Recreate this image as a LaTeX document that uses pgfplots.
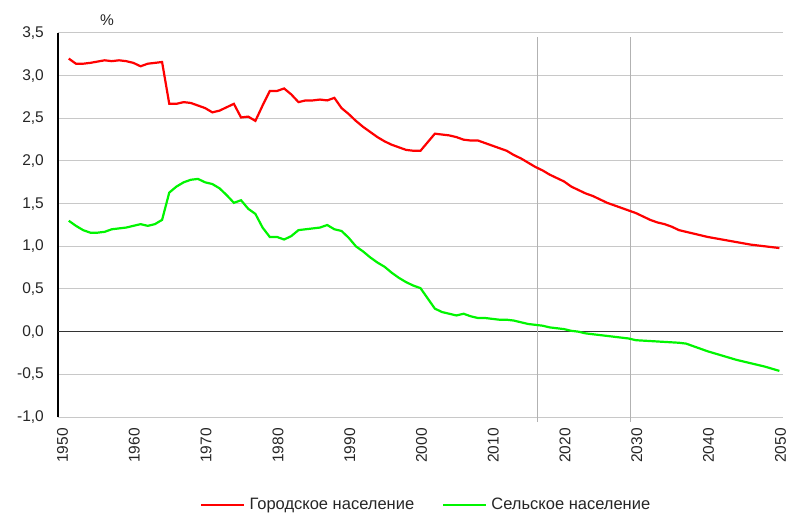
\documentclass[border=0pt]{standalone}
\usepackage{fontspec}
\setmainfont{Liberation Sans}
\usepackage{pgfplots}
\pgfplotsset{compat=1.18}
\definecolor{urb}{RGB}{255,0,0}
\definecolor{rur}{RGB}{0,245,0}
\definecolor{gridc}{RGB}{200,200,200}

\begin{document}
\begin{tikzpicture}
\path[use as bounding box] (-58pt,-96pt) rectangle (731pt,417pt);
\begin{axis}[
  at={(0pt,0pt)}, anchor=south west,
  scale only axis, width=725pt, height=384pt,
  xmin=1949.5, xmax=2050.5,
  ymin=-1, ymax=3.5,
  xtick={1950,1960,...,2050},
  ytick={-1,-0.5,...,3.5},
  major tick length=0pt,
  ymajorgrids, grid style={gridc, line width=1pt},
  axis x line=bottom, axis y line=left,
  x axis line style={-, gridc, line width=1pt},
  y axis line style={-, black, line width=1.3pt},
  /pgf/number format/assume math mode=true,
  xticklabel style={font=\fontsize{15.5}{18}\selectfont, color=black!85,
    rotate=90, anchor=east, inner sep=1pt, xshift=-10pt, yshift=-1pt,
    /pgf/number format/1000 sep={}},
  yticklabel style={font=\fontsize{15.5}{18}\selectfont, color=black!85,
    inner sep=1pt, xshift=-13pt,
    /pgf/number format/.cd, fixed, fixed zerofill, precision=1, use comma},
  legend style={at={(axis description cs:0.508,-0.229)}, anchor=center,
    draw=none, font=\fontsize{16.5}{19}\selectfont, text=black!85,
    legend columns=2, column sep=2pt, inner sep=0pt,
    /tikz/every even column/.append style={column sep=26pt}},
  legend image code/.code={\draw[#1] (0pt,0pt) -- (43pt,0pt);},
  clip=false,
]
\draw[black!80, line width=1pt] (axis cs:1949.5,0) -- (axis cs:2050.5,0);
\draw[gray!60, line width=1pt] (axis cs:2016.3,-1.06) -- (axis cs:2016.3,3.45);
\draw[gray!60, line width=1pt] (axis cs:2029.3,-1.06) -- (axis cs:2029.3,3.45);
\addplot[urb, line width=2.2pt] coordinates {
  (1951,3.20)(1952,3.14)(1953,3.14)(1954,3.15)(1956,3.18)(1957,3.17)
  (1958,3.18)(1959,3.17)(1960,3.15)(1961,3.11)(1962,3.14)(1963,3.15)
  (1964,3.16)(1965,2.67)(1966,2.67)(1967,2.69)(1968,2.68)(1969,2.65)
  (1970,2.62)(1971,2.57)(1972,2.59)(1973,2.63)(1974,2.67)(1975,2.51)
  (1976,2.52)(1977,2.47)(1978,2.65)(1979,2.82)(1980,2.82)(1981,2.85)
  (1982,2.78)(1983,2.69)(1984,2.71)(1985,2.71)(1986,2.72)(1987,2.71)
  (1988,2.74)(1989,2.62)(1990,2.55)(1991,2.47)(1992,2.40)(1993,2.34)
  (1994,2.28)(1995,2.23)(1996,2.19)(1997,2.16)(1998,2.13)(1999,2.12)
  (2000,2.12)(2001,2.22)(2002,2.32)(2003,2.31)(2004,2.30)(2005,2.28)
  (2006,2.25)(2007,2.24)(2008,2.24)(2009,2.21)(2010,2.18)(2011,2.15)
  (2012,2.12)(2013,2.07)(2014,2.03)(2015,1.98)(2016,1.93)(2017,1.89)
  (2018,1.84)(2019,1.80)(2020,1.76)(2021,1.70)(2022,1.66)(2023,1.62)
  (2024,1.59)(2025,1.55)(2026,1.51)(2027,1.48)(2028,1.45)(2029,1.42)
  (2030,1.39)(2031,1.35)(2032,1.31)(2033,1.28)(2034,1.26)(2035,1.23)
  (2036,1.19)(2037,1.17)(2038,1.15)(2039,1.13)(2040,1.11)(2042,1.08)
  (2044,1.05)(2046,1.02)(2048,1.00)(2050,0.98)
};
\addlegendentry{Городское население}
\addplot[rur, line width=2.2pt] coordinates {
  (1951,1.30)(1952,1.24)(1953,1.19)(1954,1.16)(1955,1.16)(1956,1.17)
  (1957,1.20)(1958,1.21)(1959,1.22)(1960,1.24)(1961,1.26)(1962,1.24)
  (1963,1.26)(1964,1.31)(1965,1.63)(1966,1.70)(1967,1.75)(1968,1.78)
  (1969,1.79)(1970,1.75)(1971,1.73)(1972,1.68)(1973,1.60)(1974,1.51)
  (1975,1.54)(1976,1.44)(1977,1.38)(1978,1.22)(1979,1.11)(1980,1.11)
  (1981,1.08)(1982,1.12)(1983,1.19)(1984,1.20)(1985,1.21)(1986,1.22)
  (1987,1.25)(1988,1.20)(1989,1.18)(1990,1.10)(1991,1.00)(1992,0.94)
  (1993,0.87)(1994,0.81)(1995,0.76)(1996,0.69)(1997,0.63)(1998,0.58)
  (1999,0.54)(2000,0.51)(2001,0.39)(2002,0.27)(2003,0.23)(2004,0.21)
  (2005,0.19)(2006,0.21)(2007,0.18)(2008,0.16)(2009,0.16)(2010,0.15)
  (2011,0.14)(2012,0.14)(2013,0.13)(2014,0.11)(2015,0.09)(2016,0.08)
  (2017,0.07)(2018,0.05)(2019,0.04)(2020,0.03)(2021,0.01)(2022,0.00)
  (2023,-0.02)(2024,-0.03)(2025,-0.04)(2026,-0.05)(2027,-0.06)(2028,-0.07)
  (2029,-0.08)(2030,-0.10)(2032,-0.11)(2034,-0.12)(2036,-0.13)(2037,-0.14)
  (2038,-0.17)(2040,-0.23)(2042,-0.28)(2044,-0.33)(2046,-0.37)(2048,-0.41)
  (2050,-0.46)
};
\addlegendentry{Сельское население}
\end{axis}
\node[font=\fontsize{15.5}{18}\selectfont, text=black!85] at (49pt,397pt) {\%};
\end{tikzpicture}
\end{document}
